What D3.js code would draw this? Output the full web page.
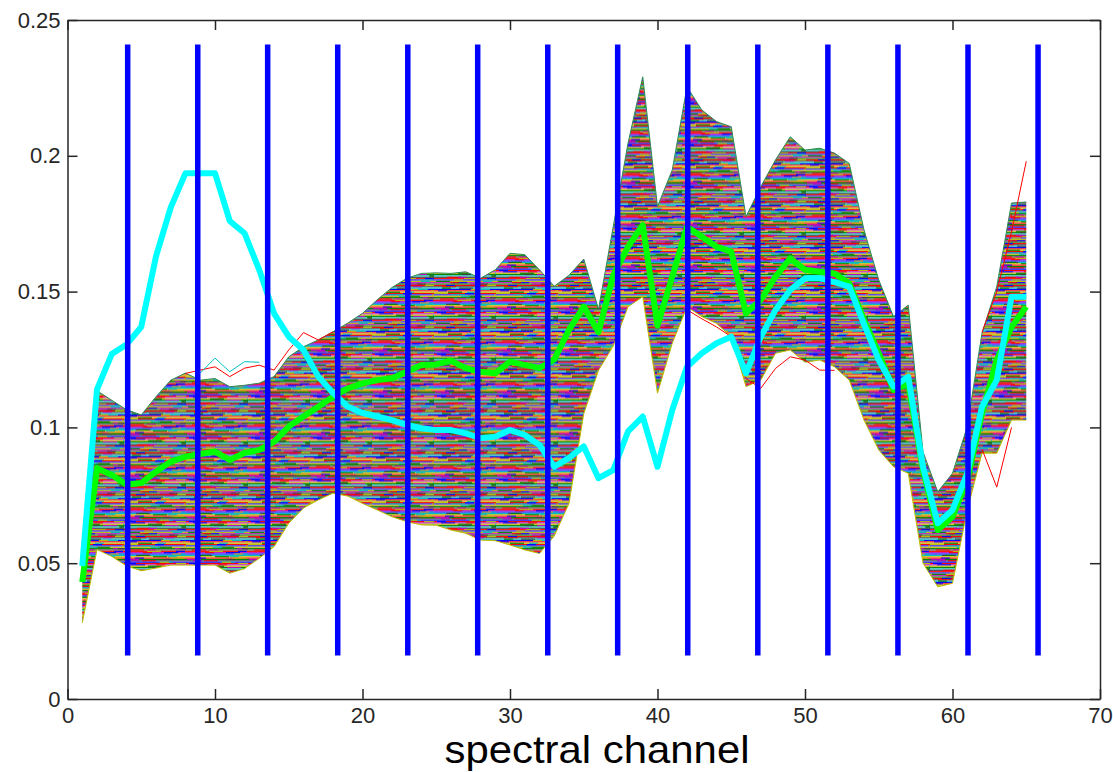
<!DOCTYPE html>
<html>
<head>
<meta charset="utf-8">
<script src="https://cdn.jsdelivr.net/npm/d3@7"></script>
<style>
    html, body { margin: 0; padding: 0; background: #ffffff; }
    #chart { width: 1113px; height: 772px; }
    text { font-family: "Liberation Sans", Arial, sans-serif; }
</style>
</head>
<body>
<div id="chart"></div>
<script>
// spectral channels 1..65
const channels = d3.range(1, 66);

// upper and lower edge of the bundle of spectra
const bundleTop = [
    0.046, 0.1135, 0.110, 0.1065, 0.1046, 0.1113, 0.1174, 0.120, 0.1174, 0.118,
    0.115, 0.1155, 0.1163, 0.1187, 0.126, 0.1297, 0.1322, 0.1352, 0.1384, 0.142,
    0.147, 0.1515, 0.1549, 0.1567, 0.1569, 0.1567, 0.1573, 0.1549, 0.158, 0.1641,
    0.1636, 0.158, 0.152, 0.156, 0.162, 0.1435, 0.174, 0.2046, 0.2291, 0.1813,
    0.1948, 0.2254, 0.2169, 0.2126, 0.2107, 0.1776, 0.1886, 0.1985, 0.207, 0.2021,
    0.2028, 0.201, 0.1972, 0.1727, 0.1543, 0.1408, 0.145, 0.091, 0.0763, 0.0831,
    0.1003, 0.1347, 0.1518, 0.1826, 0.183
];
const bundleBottom = [
    0.028, 0.055, 0.0525, 0.049, 0.0472, 0.0482, 0.0493, 0.0493, 0.0493, 0.0493,
    0.0463, 0.048, 0.0518, 0.0561, 0.0647, 0.0703, 0.0733, 0.0758, 0.0747, 0.072,
    0.0696, 0.0671, 0.0653, 0.0641, 0.064, 0.0622, 0.061, 0.0585, 0.0583, 0.0567,
    0.0549, 0.0536, 0.060, 0.072, 0.105, 0.121, 0.13, 0.1444, 0.1481, 0.1126,
    0.131, 0.1444, 0.1408, 0.1383, 0.1334, 0.115, 0.1174, 0.1273, 0.1285, 0.124,
    0.1248, 0.1223, 0.1174, 0.1027, 0.0917, 0.0855, 0.0831, 0.050, 0.0413, 0.0426,
    0.0696, 0.0905, 0.0905, 0.1027, 0.1027
];

// thick green line (mean spectrum)
const meanSpectrum = [
    0.043, 0.085, 0.0825, 0.079, 0.0795, 0.0837, 0.0874, 0.0892, 0.0902, 0.0911,
    0.088, 0.0906, 0.0917, 0.0947, 0.1003, 0.104, 0.1076, 0.1113, 0.1144, 0.1162,
    0.1174, 0.1181, 0.1205, 0.123, 0.1232, 0.1246, 0.1218, 0.1205, 0.1199, 0.1242,
    0.123, 0.1218, 0.125, 0.1359, 0.1445, 0.135, 0.156, 0.1665, 0.1745, 0.1375,
    0.1555, 0.1739, 0.1702, 0.1665, 0.1647, 0.142, 0.1469, 0.1555, 0.1622, 0.158,
    0.1573, 0.1567, 0.153, 0.1396, 0.1273, 0.1138, 0.1162, 0.0843, 0.0622, 0.0671,
    0.0806, 0.1052, 0.1248, 0.137, 0.1444
];

// thick cyan line
const targetSpectrum = [
    0.049, 0.114, 0.127, 0.1305, 0.137, 0.163, 0.181, 0.1936, 0.1936, 0.1936,
    0.176, 0.1715, 0.158, 0.142, 0.1334, 0.1285, 0.1187, 0.1127, 0.1076, 0.1053,
    0.104, 0.1027, 0.1009, 0.0997, 0.099, 0.099, 0.0978, 0.096, 0.0966, 0.099,
    0.0972, 0.0935, 0.0855, 0.0888, 0.093, 0.0813, 0.0843, 0.0985, 0.104, 0.0855,
    0.1064, 0.1223, 0.1273, 0.131, 0.1334, 0.1199, 0.1334, 0.1432, 0.1506, 0.1549,
    0.1549, 0.1535, 0.1518, 0.138, 0.1248, 0.115, 0.1187, 0.0855, 0.0647, 0.0696,
    0.0831, 0.1076, 0.1174, 0.1481, 0.1481
];

// single spectra that stick out of the bundle, only where they are visible
const strayChannels = {
    redHigh: [8, 9, 10, 11, 12, 13, 14, 15, 16, 17, 18],
    cyanHigh: [9, 10, 11, 12, 13],
    redLow: [42, 43, 44, 45, 46, 47, 48, 49, 50, 51, 52],
    redEnd: [62, 63, 64, 65],
    redDip: [62, 63, 64]
};
const strayRedHigh = [0.1199, 0.1211, 0.1223, 0.1187, 0.1218, 0.1229, 0.1211, 0.1285, 0.1349, 0.1322, 0.1352];
const strayCyanHigh = [0.12, 0.1255, 0.1205, 0.1242, 0.124];
const strayRedLow = [0.1433, 0.140, 0.137, 0.1334, 0.118, 0.1144, 0.1217, 0.126, 0.1248, 0.1211, 0.121];
const strayRedEnd = [0.135, 0.15, 0.172, 0.198];
const strayRedDip = [0.092, 0.078, 0.10];

// vertical blue markers
const markerChannels = [4.08, 8.83, 13.57, 18.32, 23.07, 27.81, 32.56, 37.3, 42.05, 46.8, 51.55, 56.3, 61.05, 65.8];
const markerRange = [0.016, 0.241];

// axis ticks
const xTicks = [0, 10, 20, 30, 40, 50, 60, 70];
const yTicks = [0, 0.05, 0.1, 0.15, 0.2, 0.25];
const yTickLabels = ["0", "0.05", "0.1", "0.15", "0.2", "0.25"];
const xLabel = "spectral channel";

// colour order used for the many thin spectra
const lineColors = ["#0000ff", "#008000", "#ff0000", "#00bfbf", "#bf00bf", "#bfbf00", "#404040"];

let svg = null;
let x = null;
let y = null;

/**
 * Builds the fill of thin coloured streaks standing in for the hundreds of spectra.
 */
function bundlePattern(defs) {
    let rowH = 1.35;
    let w = 62;
    let order = [2, 0, 5, 1, 6, 2, 4, 0, 3, 5, 2, 1, 6, 0, 2, 4, 5, 1, 3, 6, 2, 0, 5, 4, 1, 2, 6, 3, 0, 2, 5];
    let pattern = defs.append("pattern")
        .attr("id", "bundleFill")
        .attr("patternUnits", "userSpaceOnUse")
        .attr("width", w)
        .attr("height", order.length * rowH);

    pattern.append("rect")
        .attr("width", w).attr("height", order.length * rowH)
        .attr("fill", "#ffffff");

    order.forEach((c, i) => {
        // main streak of the row
        pattern.append("rect")
            .attr("x", 0).attr("y", i * rowH)
            .attr("width", w).attr("height", rowH * 0.85)
            .attr("fill", lineColors[c]);
        // two shorter streaks of other colours crossing it
        pattern.append("rect")
            .attr("x", (i * 17) % w).attr("y", i * rowH)
            .attr("width", 14).attr("height", rowH * 0.85)
            .attr("fill", lineColors[(c + 3) % lineColors.length]);
        pattern.append("rect")
            .attr("x", (i * 29 + 31) % w).attr("y", i * rowH)
            .attr("width", 9).attr("height", rowH * 0.85)
            .attr("fill", lineColors[(c + 5) % lineColors.length]);
    });
}

function chart() {
    svg = d3.select("#chart")
        .append("svg")
        .attr("width", 1113)
        .attr("height", 772);

    x = d3.scaleLinear().domain([0, 70]).range([67.5, 1100]);
    y = d3.scaleLinear().domain([0, 0.25]).range([699, 20]);

    bundlePattern(svg.append("defs"));

    let bundle = channels.map((c, i) => ({c: c, lo: bundleBottom[i], hi: bundleTop[i]}));

    // the bundle of thin spectra
    svg.append("path")
        .datum(bundle)
        .attr("fill", "url(#bundleFill)")
        .attr("d", d3.area().x(d => x(d.c)).y0(d => y(d.lo)).y1(d => y(d.hi)));

    svg.append("path")
        .datum(bundle)
        .attr("fill", "none")
        .attr("stroke", "#2e8b57")
        .attr("stroke-width", 1)
        .attr("d", d3.line().x(d => x(d.c)).y(d => y(d.hi)));

    svg.append("path")
        .datum(bundle)
        .attr("fill", "none")
        .attr("stroke", "#bfbf00")
        .attr("stroke-width", 1)
        .attr("d", d3.line().x(d => x(d.c)).y(d => y(d.lo)));

    // stray spectra
    let strays = [
        {ch: strayChannels.redHigh, v: strayRedHigh, color: "#ff0000"},
        {ch: strayChannels.cyanHigh, v: strayCyanHigh, color: "#00bfbf"},
        {ch: strayChannels.redLow, v: strayRedLow, color: "#ff0000"},
        {ch: strayChannels.redEnd, v: strayRedEnd, color: "#ff0000"},
        {ch: strayChannels.redDip, v: strayRedDip, color: "#ff0000"}
    ];
    strays.forEach(s => {
        svg.append("path")
            .datum(s.ch.map((c, i) => [c, s.v[i]]))
            .attr("fill", "none")
            .attr("stroke", s.color)
            .attr("stroke-width", 1)
            .attr("d", d3.line().x(d => x(d[0])).y(d => y(d[1])));
    });

    // mean (green) and cyan spectra
    let thick = d3.line().x((d, i) => x(channels[i])).y(d => y(d));

    svg.append("path")
        .datum(meanSpectrum)
        .attr("fill", "none")
        .attr("stroke", "#00ff00")
        .attr("stroke-width", 6)
        .attr("stroke-linejoin", "round")
        .attr("d", thick);

    svg.append("path")
        .datum(targetSpectrum)
        .attr("fill", "none")
        .attr("stroke", "#00ffff")
        .attr("stroke-width", 6)
        .attr("stroke-linejoin", "round")
        .attr("d", thick);

    // blue markers
    svg.selectAll(".marker")
        .data(markerChannels)
        .join("line")
        .attr("class", "marker")
        .attr("x1", d => x(d)).attr("x2", d => x(d))
        .attr("y1", y(markerRange[0])).attr("y2", y(markerRange[1]))
        .attr("stroke", "#0000ff")
        .attr("stroke-width", 5.5);

    // axes, ticks pointing inwards on all four sides
    let axisColor = "#262626";

    let bottom = svg.append("g")
        .attr("transform", `translate(0,${y(0)})`)
        .call(d3.axisBottom(x).tickValues(xTicks).tickFormat(d3.format("d"))
            .tickSizeInner(-10).tickSizeOuter(0).tickPadding(8));
    let left = svg.append("g")
        .attr("transform", `translate(${x(0)},0)`)
        .call(d3.axisLeft(y).tickValues(yTicks).tickFormat((d, i) => yTickLabels[i])
            .tickSizeInner(-10).tickSizeOuter(0).tickPadding(7));
    let top = svg.append("g")
        .attr("transform", `translate(0,${y(0.25)})`)
        .call(d3.axisTop(x).tickValues(xTicks).tickFormat("")
            .tickSizeInner(-10).tickSizeOuter(0));
    let right = svg.append("g")
        .attr("transform", `translate(${x(70)},0)`)
        .call(d3.axisRight(y).tickValues(yTicks).tickFormat("")
            .tickSizeInner(-10).tickSizeOuter(0));

    [bottom, left, top, right].forEach(g => {
        g.selectAll("path, line").attr("stroke", axisColor).attr("stroke-width", 1.5);
        g.selectAll("text")
            .attr("fill", axisColor)
            .style("font-size", "22px")
            .style("font-family", "'Liberation Sans', Arial, sans-serif");
    });

    svg.append("text")
        .attr("x", 597)
        .attr("y", 763)
        .attr("text-anchor", "middle")
        .attr("textLength", 305)
        .attr("lengthAdjust", "spacingAndGlyphs")
        .style("font-size", "39px")
        .attr("fill", "#000000")
        .text(xLabel);
}

chart();
</script>
</body>
</html>
